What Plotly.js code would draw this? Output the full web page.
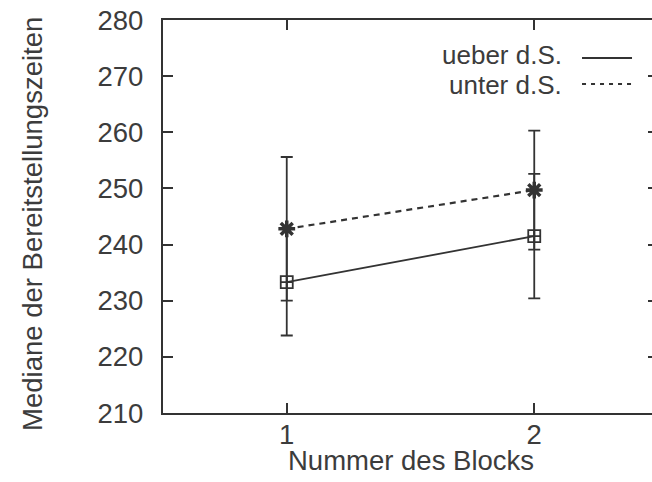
<!DOCTYPE html>
<html>
<head>
<meta charset="utf-8">
<script src="https://cdn.plot.ly/plotly-3.0.1.min.js"></script>
<style>
html, body { margin:0; padding:0; background:#fff; }
#wrap { width:652px; height:482px; overflow:hidden; }
#chart { width:662px; height:482px; }
</style>
</head>
<body>
<div id="wrap"><div id="chart"></div></div>
<script>
// Data
var blocks = [1, 2];
var xTickLabels = ['1', '2'];
var ueberMedian = [233.3, 241.5];
var ueberErr = [9.5, 11.1];
var unterMedian = [242.8, 249.7];
var unterErr = [12.8, 10.6];
var seriesNames = ['ueber d.S.', 'unter d.S.'];
var xTitle = 'Nummer des Blocks';
var yTitle = 'Mediane der Bereitstellungszeiten';

var ink = '#333333';
var txt = '#3c3c3c';
var fnt = {family: 'Liberation Sans, Arial, sans-serif', size: 27.5, color: txt};
var legFnt = {family: 'Liberation Sans, Arial, sans-serif', size: 26, color: txt};

var traces = [
  {
    x: blocks, y: ueberMedian, type: 'scatter', mode: 'lines+markers', name: seriesNames[0],
    line: {color: ink, width: 1.8},
    marker: {symbol: 'square-cross-open', size: 12, color: ink, line: {width: 1.8, color: ink}},
    error_y: {type: 'data', array: ueberErr, visible: true, color: ink, thickness: 1.8, width: 6},
    showlegend: false
  },
  {
    x: blocks, y: unterMedian, type: 'scatter', mode: 'lines+markers', name: seriesNames[1],
    line: {color: ink, width: 2.2, dash: '6px,5px'},
    marker: {symbol: 'asterisk-open', size: 14, color: ink, line: {width: 3.5, color: ink}},
    error_y: {type: 'data', array: unterErr, visible: true, color: ink, thickness: 1.8, width: 6},
    showlegend: false
  }
];

var layout = {
  width: 662, height: 482,
  margin: {l: 163, r: 4, t: 20, b: 69},
  paper_bgcolor: '#fff', plot_bgcolor: '#fff',
  font: fnt,
  xaxis: {
    range: [0.5, 2.5], tickvals: blocks, ticktext: xTickLabels,
    ticks: 'inside', ticklen: 10, tickwidth: 2, tickcolor: ink,
    showline: true, linecolor: ink, linewidth: 2.2, mirror: 'ticks',
    showgrid: false, zeroline: false, tickfont: fnt, ticklabelstandoff: -4
  },
  yaxis: {
    range: [210, 280], dtick: 10, tick0: 210,
    ticks: 'inside', ticklen: 10, tickwidth: 2, tickcolor: ink,
    showline: true, linecolor: ink, linewidth: 2.2, mirror: 'ticks',
    showgrid: false, zeroline: false, tickfont: fnt, ticklabelstandoff: 12
  },
  annotations: [
    {xref: 'paper', yref: 'paper', x: 0.5, y: -0.12, xanchor: 'center', yanchor: 'middle',
     text: xTitle, showarrow: false, font: fnt},
    {xref: 'paper', yref: 'paper', x: -0.2626, y: 0.481, xanchor: 'center', yanchor: 'middle',
     textangle: -90, text: yTitle, showarrow: false, font: fnt},
    {xref: 'paper', yref: 'paper', x: 0.808, y: 0.910, xanchor: 'right', yanchor: 'middle',
     text: seriesNames[0], showarrow: false, font: legFnt, borderpad: 0},
    {xref: 'paper', yref: 'paper', x: 0.808, y: 0.834, xanchor: 'right', yanchor: 'middle',
     text: seriesNames[1], showarrow: false, font: legFnt, borderpad: 0}
  ],
  shapes: [
    {type: 'line', xref: 'paper', yref: 'paper', x0: 0.8465, x1: 0.9475, y0: 0.9033, y1: 0.9033,
     line: {color: ink, width: 1.8}},
    {type: 'line', xref: 'paper', yref: 'paper', x0: 0.8465, x1: 0.9475, y0: 0.8372, y1: 0.8372,
     line: {color: ink, width: 2, dash: '4px,5px'}}
  ]
};

Plotly.newPlot('chart', traces, layout, {staticPlot: true, displayModeBar: false});
</script>
</body>
</html>
